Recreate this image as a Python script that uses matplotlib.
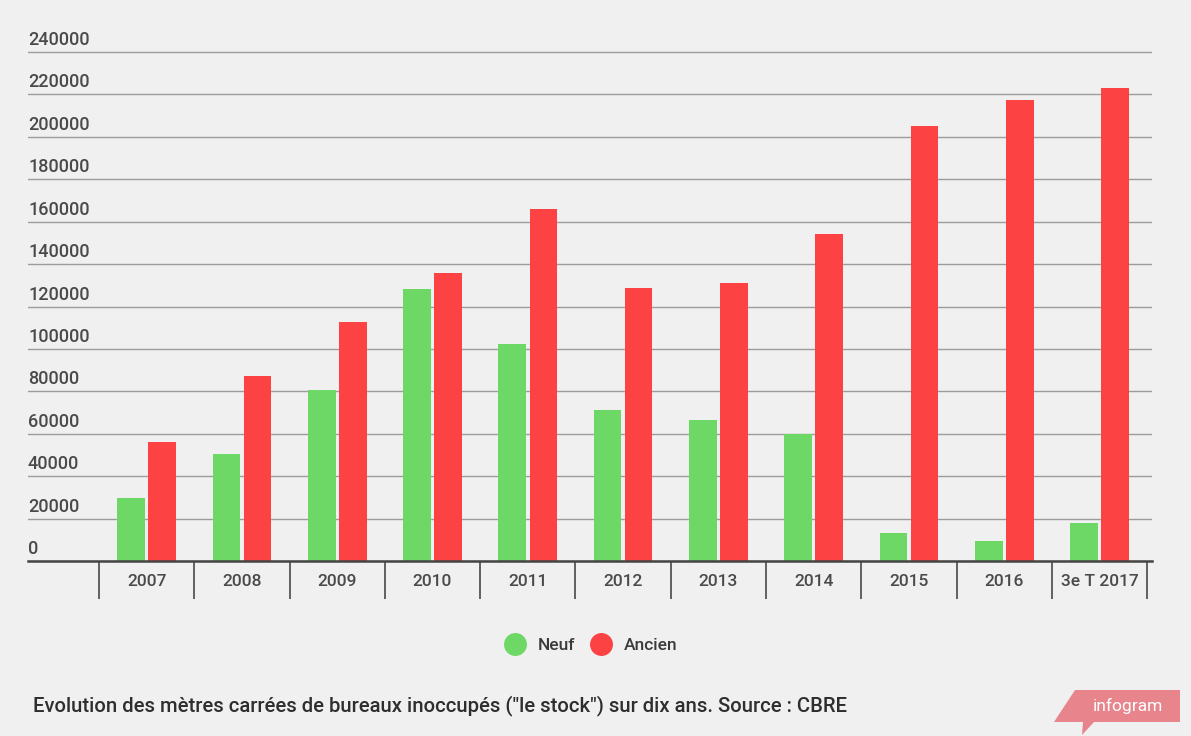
"""
Stock de bureaux inoccupés : neuf vs ancien (barres groupées)
"""
import matplotlib
matplotlib.use('Agg')
import matplotlib.pyplot as plt
from matplotlib.lines import Line2D
from matplotlib.patches import Polygon

# Données
categories = ['2007', '2008', '2009', '2010', '2011', '2012',
              '2013', '2014', '2015', '2016', '3e T 2017']
neuf = [29500, 50500, 80700, 128300, 102300, 71200,
        66500, 59800, 13000, 9400, 17800]
ancien = [56100, 87300, 112900, 136000, 166200, 128600,
          130900, 154200, 205000, 217300, 223200]
yticks = list(range(0, 240001, 20000))

GREEN = '#6dd866'
RED = '#fc4242'
BG = '#f1f0f1'
TXT = '#4a4a4a'

plt.rcParams['font.family'] = ['Roboto', 'DejaVu Sans']

W, H = 1191, 736
fig = plt.figure(figsize=(W / 100, H / 100), dpi=100, facecolor=BG)


def px(x, y):
    """pixels (origine en haut à gauche) -> fraction de figure"""
    return x / W, 1 - y / H


# zone du graphique
ax = fig.add_axes([28 / W, 175 / H, 1124 / W, 511 / H])
ax.set_facecolor(BG)

n = len(categories)
xs = list(range(n))
bw = 0.29
off = 0.163
ax.bar([x - off for x in xs], neuf, width=bw, color=GREEN, label='Neuf', zorder=3)
ax.bar([x + off for x in xs], ancien, width=bw, color=RED, label='Ancien', zorder=3)

ax.set_xlim(-1.245, 10.55)
ax.set_ylim(0, 240000 * 511 / 509)

# grille horizontale
ax.set_yticks(yticks)
ax.set_yticklabels([])
ax.tick_params(axis='y', length=0)
ax.grid(axis='y', color='#9c9c9c', linewidth=1, zorder=1)
for v in yticks:
    ax.annotate(str(v), xy=(0, v), xycoords=('axes fraction', 'data'),
                xytext=(0, 5), textcoords='offset points',
                ha='left', va='baseline', fontsize=13, color=TXT,
                fontweight='medium')

# axe des x : étiquettes au centre, séparateurs aux bords
ax.set_xticks(xs)
ax.set_xticklabels(categories, fontsize=12.5, color=TXT, fontweight='medium')
ax.tick_params(axis='x', which='major', length=0, pad=9)
ax.set_xticks([x - 0.5 for x in xs] + [n - 0.5], minor=True)
ax.tick_params(axis='x', which='minor', length=27, width=1.3, color='#555555')

for s in ['top', 'right', 'left']:
    ax.spines[s].set_visible(False)
ax.spines['bottom'].set_color('#444444')
ax.spines['bottom'].set_linewidth(1.8)
ax.spines['bottom'].set_zorder(4)

# légende
handles = [Line2D([], [], marker='o', linestyle='none', markersize=15.5,
                  markerfacecolor=GREEN, markeredgecolor=GREEN, label='Neuf'),
           Line2D([], [], marker='o', linestyle='none', markersize=15.5,
                  markerfacecolor=RED, markeredgecolor=RED, label='Ancien')]
leg = fig.legend(handles=handles, loc='center', bbox_to_anchor=px(591, 645),
                 ncol=2, frameon=False, fontsize=12.5, handletextpad=0.7,
                 columnspacing=0.9, handlelength=1.2)
for t in leg.get_texts():
    t.set_color('#3a3a3a')
    t.set_fontweight('medium')

# légende du bas
fig.text(*px(33, 706),
         'Evolution des mètres carrées de bureaux inoccupés ("le stock") sur dix ans. Source : CBRE',
         ha='left', va='center', fontsize=14.6, color='#2e2e2e', fontweight='medium')

# logo infogram
pts = [px(1075, 690), px(1180, 690), px(1180, 722), px(1094, 722),
       px(1082, 735), px(1083, 722), px(1054, 722)]
fig.patches.append(Polygon(pts, closed=True, facecolor='#e8858c',
                           edgecolor='none', transform=fig.transFigure))
fig.text(*px(1128, 706), 'infogram', ha='center', va='center',
         fontsize=12.5, color='white')

plt.savefig('out.png', dpi=100, facecolor=BG)
